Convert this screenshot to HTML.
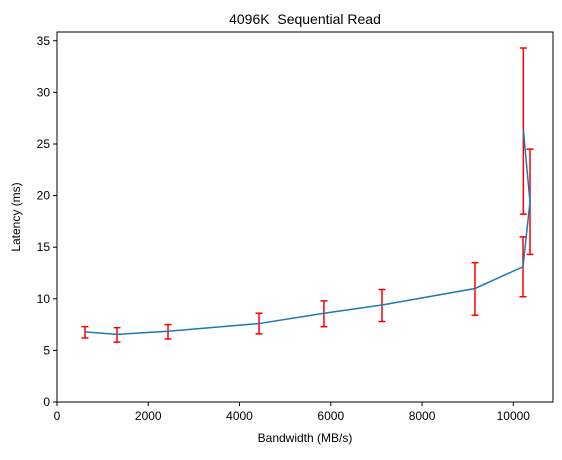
<!DOCTYPE html>
<html><head><meta charset="utf-8"><style>
body{margin:0;background:#fff;font-family:"Liberation Sans","DejaVu Sans",sans-serif}
</style></head><body>
<svg id="c" width="562" height="455" xmlns="http://www.w3.org/2000/svg"></svg>
<script>
const bandwidth=[614,1315,2433,4427,5850,7122,9160,10212,10366,10220];
const latency=[6.8,6.55,6.85,7.6,8.6,9.4,11.0,13.1,19.4,26.4];
const errLow=[6.2,5.8,6.1,6.6,7.3,7.8,8.4,10.2,14.3,18.2];
const errHigh=[7.3,7.2,7.5,8.6,9.8,10.9,13.5,16.0,24.5,34.3];
const xTicks=[0,2000,4000,6000,8000,10000];
const yTicks=[0,5,10,15,20,25,30,35];
const L=57,R=553,T=32,B=402,XMAX=10870,YMAX=35.85;
const sx=v=>L+v/XMAX*(R-L), sy=v=>B-v/YMAX*(B-T);
const svg=document.getElementById('c');const NS='http://www.w3.org/2000/svg';
function mk(t,a,txt){const e=document.createElementNS(NS,t);for(const k in a)e.setAttribute(k,a[k]);if(txt!=null)e.textContent=txt;svg.appendChild(e);return e;}
let e;
e=mk('text',{x:(L+R)/2,y:24,'text-anchor':'middle','font-size':14,fill:'#000',style:'white-space:pre'},'4096K  Sequential Read');


xTicks.forEach(v=>{const x=sx(v);
e=mk('line',{x1:x,x2:x,y1:B,y2:B+4,stroke:'#000'});


e=mk('text',{x:x,y:B+18,'text-anchor':'middle','font-size':12},v);

});
yTicks.forEach(v=>{const y=sy(v);
e=mk('line',{x1:L-4,x2:L,y1:y,y2:y,stroke:'#000'});


e=mk('text',{x:L-7,y:y+4,'text-anchor':'end','font-size':12},v);

});
e=mk('text',{x:(L+R)/2,y:442,'text-anchor':'middle','font-size':12},'Bandwidth (MB/s)');


e=mk('text',{x:20,y:(T+B)/2,'text-anchor':'middle','font-size':12,transform:`rotate(-90 20 ${(T+B)/2})`},'Latency (ms)');


bandwidth.forEach((b,i)=>{const x=sx(b);
e=mk('line',{x1:x,x2:x,y1:sy(errLow[i]),y2:sy(errHigh[i]),stroke:'#ff0000','stroke-width':1.5});


[errLow[i],errHigh[i]].forEach(v=>{e=mk('line',{x1:x-3.5,x2:x+3.5,y1:sy(v),y2:sy(v),stroke:'#ff0000','stroke-width':1.5});

});});
e=mk('polyline',{points:bandwidth.map((b,i)=>sx(b)+','+sy(latency[i])).join(' '),fill:'none',stroke:'#1f77b4','stroke-width':1.5});


e=mk('rect',{x:L,y:T,width:R-L,height:B-T,fill:'none',stroke:'#000','stroke-width':1});


</script>
</body></html>
